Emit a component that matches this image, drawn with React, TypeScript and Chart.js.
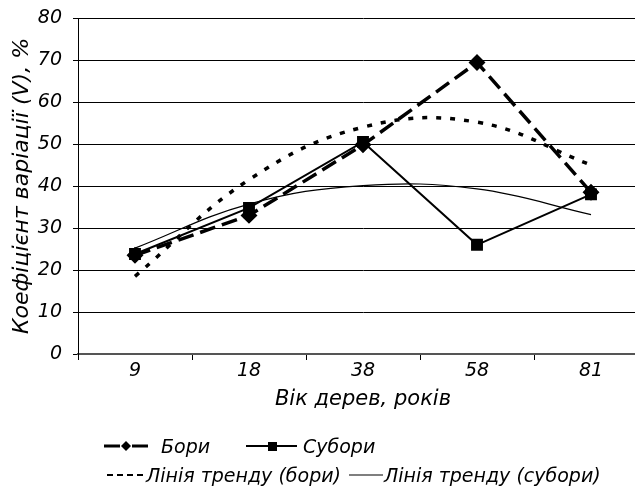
import React, { useEffect, useRef } from "react";
import { Chart, registerables } from "chart.js";

Chart.register(...registerables);

const categories = ["9", "18", "38", "58", "81"];
const boriValues = [23.5, 33, 49.8, 69.4, 38.5];
const suboriValues = [23.8, 34.8, 50.5, 26, 38];
const boriTrend = [18.5, 41.5, 54, 55.2, 45];
const suboriTrend = [25.2, 35.7, 40.1, 39.3, 33.2];

const yTitle = "Коефіцієнт варіації (V), %";
const xTitle = "Вік дерев, років";
const legendLabels = ["Бори", "Субори", "Лінія тренду (бори)", "Лінія тренду (субори)"];

const FONT = "'DejaVu Sans', 'Liberation Sans', Arial, sans-serif";

const legendPlugin = {
  id: "customLegend",
  afterDraw(chart: any) {
    const ctx = chart.ctx;
    ctx.save();
    ctx.fillStyle = "#000";
    ctx.strokeStyle = "#000";
    ctx.font = `italic 19px ${FONT}`;
    ctx.textBaseline = "alphabetic";
    ctx.textAlign = "left";
    const r1 = 456;
    const r2 = 485;
    const ly1 = r1 - 7;
    const ly2 = r2 - 7;
    // Бори sample
    ctx.lineWidth = 3;
    ctx.setLineDash([]);
    ctx.beginPath();
    ctx.moveTo(96, ly1);
    ctx.lineTo(112, ly1);
    ctx.moveTo(124, ly1);
    ctx.lineTo(140, ly1);
    ctx.stroke();
    ctx.beginPath();
    ctx.moveTo(118, ly1 - 5);
    ctx.lineTo(123, ly1);
    ctx.lineTo(118, ly1 + 5);
    ctx.lineTo(113, ly1);
    ctx.closePath();
    ctx.fill();
    ctx.fillText(legendLabels[0], 153, r1);
    // Субори sample
    ctx.lineWidth = 2;
    ctx.beginPath();
    ctx.moveTo(238, ly1);
    ctx.lineTo(289, ly1);
    ctx.stroke();
    ctx.fillRect(260, ly1 - 4, 9, 9);
    ctx.fillText(legendLabels[1], 295, r1);
    // trend бори sample
    ctx.lineWidth = 2;
    ctx.setLineDash([6, 4]);
    ctx.beginPath();
    ctx.moveTo(99, ly2);
    ctx.lineTo(137, ly2);
    ctx.stroke();
    ctx.setLineDash([]);
    ctx.fillText(legendLabels[2], 138, r2);
    // trend субори sample
    ctx.lineWidth = 1.2;
    ctx.beginPath();
    ctx.moveTo(341, ly2);
    ctx.lineTo(375, ly2);
    ctx.stroke();
    ctx.fillText(legendLabels[3], 376, r2);
    ctx.restore();
  },
};

export default function App() {
  const ref = useRef<HTMLCanvasElement>(null);
  useEffect(() => {
    if (!ref.current) return;
    const chart = new Chart(ref.current, {
      type: "line",
      data: {
        labels: categories,
        datasets: [
          {
            label: legendLabels[2],
            data: boriTrend,
            borderColor: "#000",
            borderWidth: 3.5,
            borderDash: [5, 9],
            pointRadius: 0,
            tension: 0.4,
            fill: false,
          },
          {
            label: legendLabels[3],
            data: suboriTrend,
            borderColor: "#000",
            borderWidth: 1.2,
            pointRadius: 0,
            tension: 0.4,
            fill: false,
          },
          {
            label: legendLabels[0],
            data: boriValues,
            borderColor: "#000",
            borderWidth: 3.5,
            borderDash: [16, 7],
            pointStyle: "rectRot",
            pointRadius: 6,
            pointBackgroundColor: "#000",
            pointBorderColor: "#000",
            tension: 0,
            fill: false,
          },
          {
            label: legendLabels[1],
            data: suboriValues,
            borderColor: "#000",
            borderWidth: 2,
            pointStyle: "rect",
            pointRadius: 7,
            pointBackgroundColor: "#000",
            pointBorderColor: "#000",
            tension: 0,
            fill: false,
          },
        ],
      },
      options: {
        responsive: false,
        animation: false,
        layout: { autoPadding: false, padding: { top: 0, right: 0, left: 0, bottom: 80 } },
        plugins: {
          legend: { display: false },
          tooltip: { enabled: false },
        },
        scales: {
          x: {
            offset: true,
            grid: {
              offset: true,
              drawOnChartArea: false,
              drawTicks: true,
              tickLength: 6,
              color: "#000",
            },
            border: { color: "#555", width: 2 },
            ticks: {
              color: "#000",
              padding: 0,
              font: { family: FONT, size: 19, style: "italic", lineHeight: 1.2 },
            },
            title: {
              display: true,
              text: xTitle,
              color: "#000",
              padding: 0,
              font: { family: FONT, size: 21, style: "italic", lineHeight: 1.2 },
            },
            afterFit(scale: any) {
              scale.height = 58;
            },
          },
          y: {
            min: 0,
            max: 80,
            ticks: {
              stepSize: 10,
              color: "#000",
              padding: 11,
              font: { family: FONT, size: 19, style: "italic", lineHeight: 20 / 19 },
            },
            grid: { color: "#000", lineWidth: 1, drawTicks: true, tickLength: 5 },
            border: { color: "#000", width: 1 },
            title: {
              display: true,
              text: yTitle,
              color: "#000",
              padding: { top: 1, bottom: 0 },
              font: { family: FONT, size: 22, style: "italic", lineHeight: 1.2 },
            },
            afterFit(scale: any) {
              scale.width = 70;
            },
          },
        },
      },
      plugins: [legendPlugin],
    });
    return () => chart.destroy();
  }, []);
  return (
    <div style={{ position: "relative", top: -11, width: 635, height: 495, overflow: "hidden" }}>
      <canvas ref={ref} width={640} height={495} style={{ display: "block" }} />
    </div>
  );
}
